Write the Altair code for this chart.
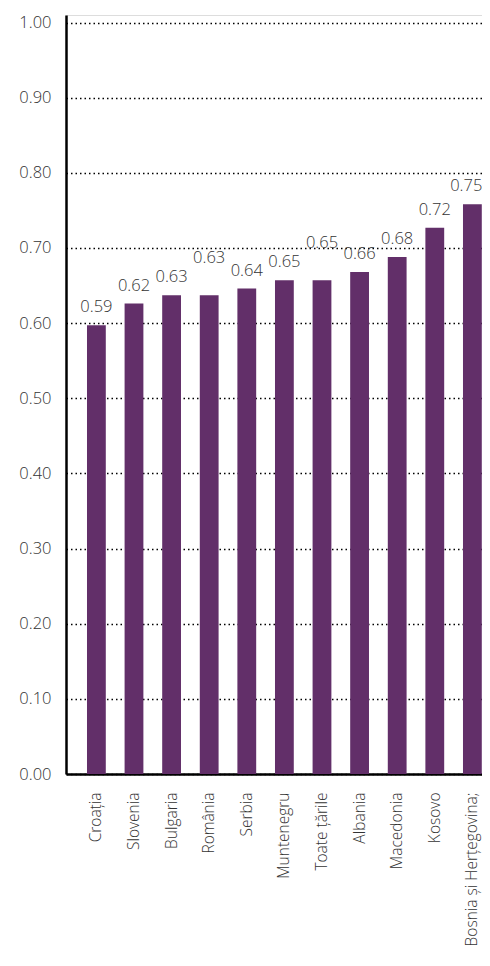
import altair as alt
import pandas as pd

countries = ["Croația", "Slovenia", "Bulgaria", "România", "Serbia", "Muntenegru",
             "Toate țările", "Albania", "Macedonia", "Kosovo", "Bosnia și Herțegovina;"]
values = [0.597, 0.626, 0.637, 0.637, 0.646, 0.657, 0.657, 0.668, 0.688, 0.727, 0.758]
labels = ["0.59", "0.62", "0.63", "0.63", "0.64", "0.65", "0.65", "0.66", "0.68", "0.72", "0.75"]
y_ticks = [0.0, 0.1, 0.2, 0.3, 0.4, 0.5, 0.6, 0.7, 0.8, 0.9, 1.0]

df = pd.DataFrame({"country": countries, "value": values, "label": labels,
                   "order": list(range(len(countries)))})

FONT = "Open Sans"
TXT = "#333333"
PX_PER_UNIT = 751.0

x_enc = alt.X("country:N", sort=countries,
              scale=alt.Scale(paddingInner=0.5, paddingOuter=0.282, align=0.99),
              axis=alt.Axis(title=None, labelAngle=-90, labelAlign="right", labelBaseline="middle",
                            labelPadding=18, ticks=False, domainColor="black", domainWidth=2.5,
                            labelFont=FONT, labelFontSize=15.5, labelFontWeight=300, labelColor=TXT))

y_scale = alt.Scale(domain=[0, 1.01], nice=False)

bars = alt.Chart(df).mark_bar(color="#622F69").encode(
    x=x_enc,
    y=alt.Y("value:Q", scale=y_scale,
            axis=alt.Axis(title=None, values=y_ticks, format=".2f", ticks=False, labelPadding=15,
                          domainColor="black", domainWidth=2.5,
                          grid=True, gridColor="black", gridDash=[1.5, 3], gridWidth=1.3,
                          labelFont=FONT, labelFontSize=16.5, labelFontWeight=300, labelColor=TXT)),
)

base_text = alt.Chart(df).transform_window(
    prev="lag(label)", sort=[alt.SortField("order")]
).transform_joinaggregate(
    last="max(order)"
).transform_calculate(
    label_y=f"datum.value + (datum.prev == datum.label ? 19 / {PX_PER_UNIT} : 0)"
)

text_enc = dict(
    x=alt.X("country:N", sort=countries),
    y=alt.Y("label_y:Q", scale=y_scale),
    text="label:N",
)

text_main = base_text.transform_filter("datum.order < datum.last").mark_text(
    font=FONT, fontSize=16.5, fontWeight=300, color=TXT, baseline="alphabetic", dy=-13
).encode(**text_enc)

text_last = base_text.transform_filter("datum.order == datum.last").mark_text(
    font=FONT, fontSize=16.5, fontWeight=300, color=TXT, baseline="alphabetic", dy=-13,
    align="right", dx=10
).encode(**text_enc)

chart = (bars + text_main + text_last).properties(
    width=416, height=759,
    autosize=alt.AutoSizeParams(type="none"),
    padding={"left": 58, "top": 7, "right": 0, "bottom": 180},
).configure_view(stroke=None).configure(background="white")

chart.save("out.html", embed_options={"renderer": "svg", "actions": False})
